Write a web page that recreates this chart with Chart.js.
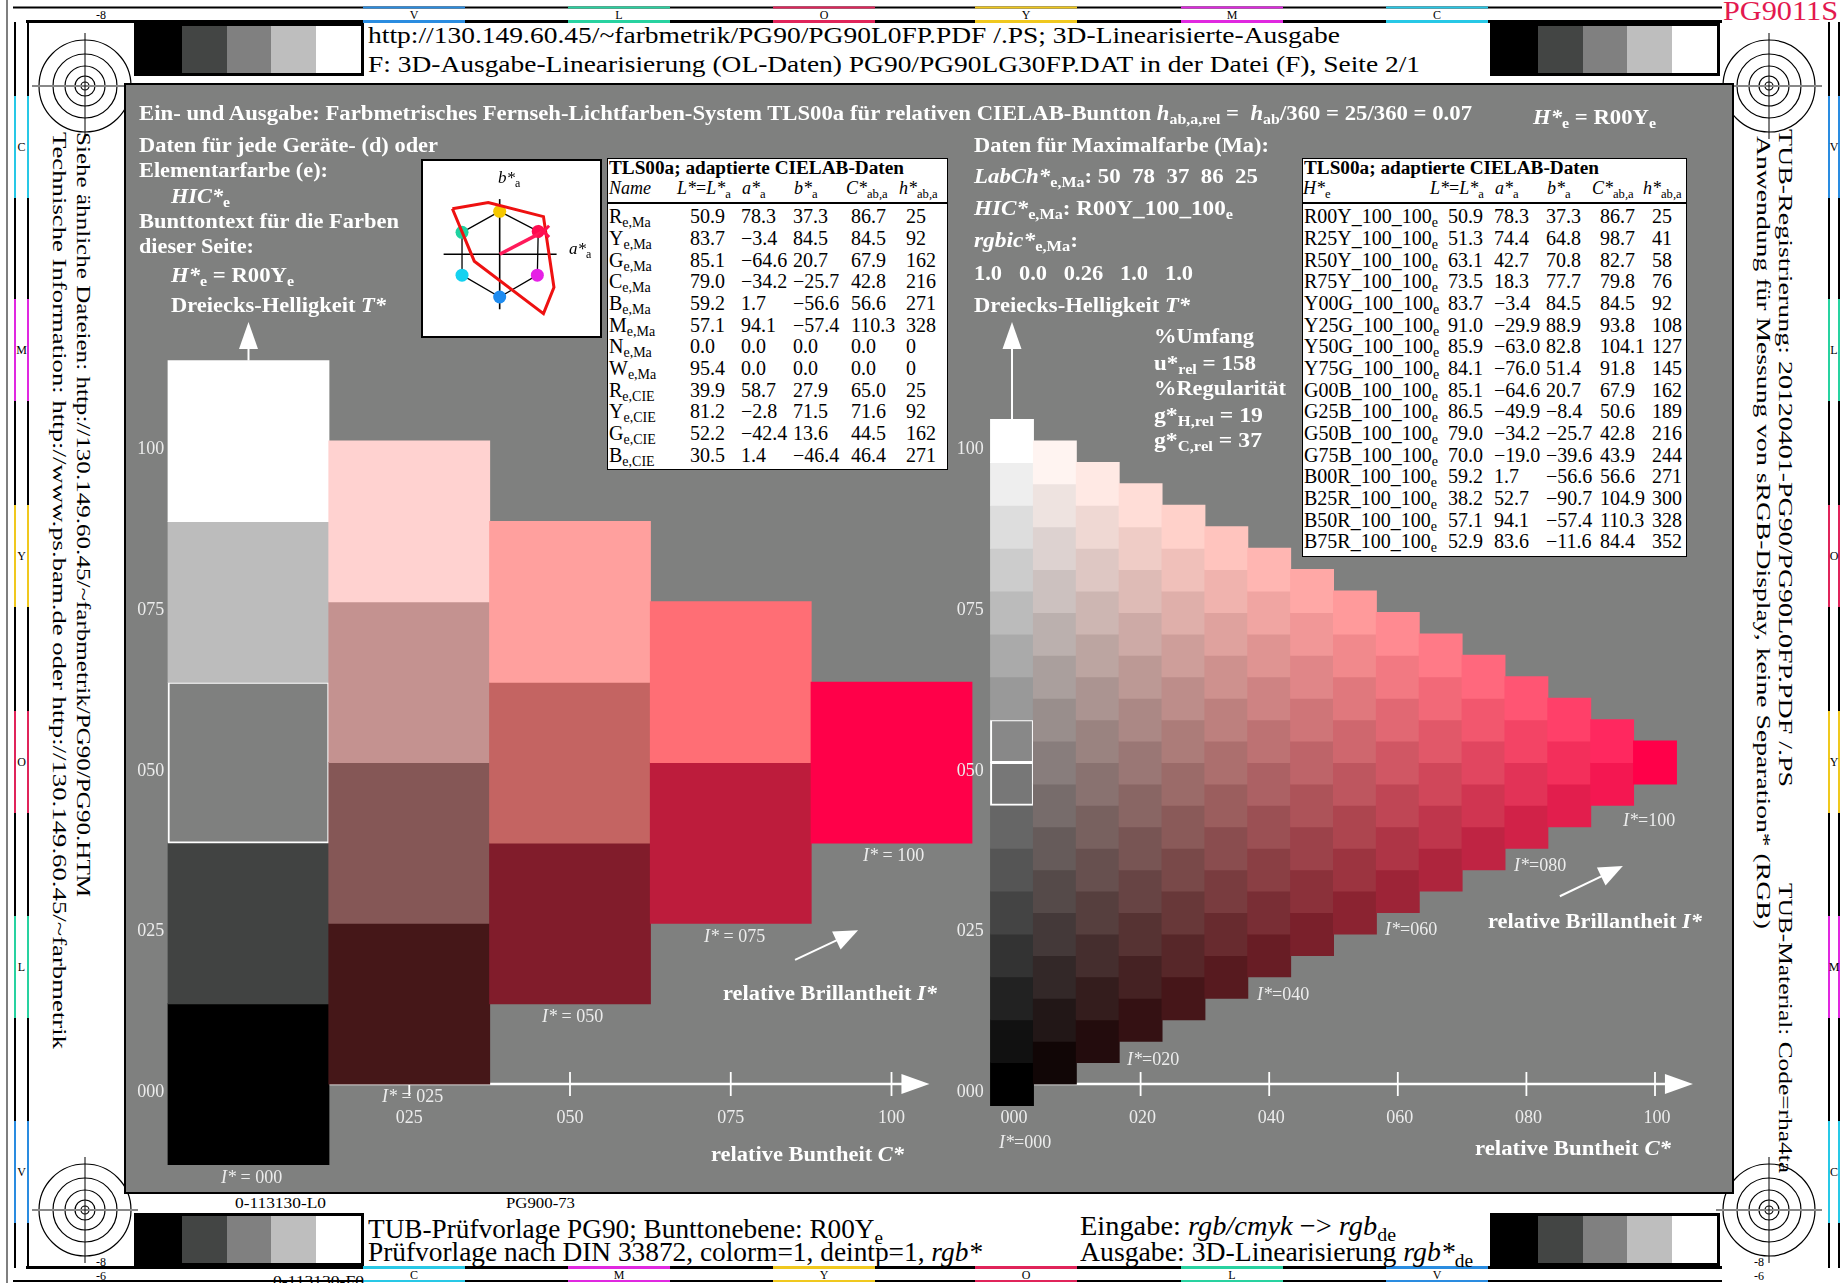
<!DOCTYPE html>
<html lang="de">
<head>
<meta charset="utf-8">
<title>PG90 – TLS00a Buntton R00Ye</title>
<script src="https://cdn.jsdelivr.net/npm/chart.js@4.4.1/dist/chart.umd.min.js"></script>
<style>
html, body { margin: 0; padding: 0; }
body { width: 1843px; height: 1283px; position: relative; overflow: hidden; background: #fff;
       font-family: "Liberation Serif", "DejaVu Serif", serif; color: #000; }
.t { position: absolute; white-space: nowrap; }
.t sub { font-size: 70%; vertical-align: -0.3em; line-height: 0; }
#panel { position: absolute; left: 124px; top: 83px; width: 1610px; height: 1111px; box-sizing: border-box;
         border: 2px solid #000; background: #7f807f; }
#grid { position: absolute; left: 126px; top: 85px; }
.box { position: absolute; background: #fff; border: 1.5px solid #000; box-sizing: border-box; }
#hex { position: absolute; left: 423px; top: 161px; }
#frame { position: absolute; left: 0; top: 0; }
.wedge { position: absolute; width: 230px; height: 53px; box-sizing: border-box; border: 3px solid #000; display: flex; }
.wedge div { flex: 1; }
</style>
</head>
<body>
<div id="panel"></div>
<canvas id="grid" width="1606" height="1107"></canvas>
<div class="box" style="left:421px;top:159px;width:181px;height:179px;border-width:2px"></div>
<canvas id="hex" width="177" height="175"></canvas>
<script>
// ---- Daten: linke Ebene (5 Stufen) ----
const leftC = [0, 25, 50, 75, 100];
const leftT = [
  [0, 25, 50, 75, 100],
  [12.5, 37.5, 62.5, 87.5],
  [25, 50, 75],
  [37.5, 62.5],
  [50]
];
// ---- Daten: rechte Ebene (16 Stufen) ----
const rightC = [0, 6.6667, 13.3333, 20, 26.6667, 33.3333, 40, 46.6667, 53.3333, 60,
                66.6667, 73.3333, 80, 86.6667, 93.3333, 100];
const rightLevels = [0, 3.3333, 6.6667, 10, 13.3333, 16.6667, 20, 23.3333, 26.6667, 30,
                     33.3333, 36.6667, 40, 43.3333, 46.6667, 50, 53.3333, 56.6667, 60, 63.3333,
                     66.6667, 70, 73.3333, 76.6667, 80, 83.3333, 86.6667, 90, 93.3333, 96.6667, 100];
const yTicks = [0, 25, 50, 75, 100];
const yTickLabels = ['000', '025', '050', '075', '100'];
const leftXTicks = [25, 50, 75, 100];
const leftXLabels = ['025', '050', '075', '100'];
const rightXTicks = [0, 20, 40, 60, 80, 100];
const rightXLabels = ['000', '020', '040', '060', '080', '100'];
const brillLeft = [{x: 85.0, y: 19.3}, {x: 94.8, y: 23.9}];
const brillRight = [{x: 85.2, y: 29.2}, {x: 95.0, y: 33.9}];

// ---- Daten: a*b*-Diagramm ----
const hexAxisA = [{x: -64, y: 0}, {x: 65, y: 0}];
const hexAxisB = [{x: 0, y: -63}, {x: 0, y: 63}];
const hexPoints = [{x: 0, y: 49}, {x: 44, y: 26}, {x: 43, y: -24}, {x: 0, y: -49}, {x: -43, y: -24}, {x: -43, y: 25}];
const gamutPoly = [{x: -54, y: 52}, {x: -13, y: 59}, {x: 50, y: 43}, {x: 62, y: -38}, {x: 50, y: -68}, {x: -29, y: -8}];
const hueVector = [{x: 0, y: 0}, {x: 48, y: 25}];
const hueMark = [{x: 50, y: 26}];

// ---- Tabellen ----
const leftNames = ['R<sub>e,Ma</sub>', 'Y<sub>e,Ma</sub>', 'G<sub>e,Ma</sub>', 'C<sub>e,Ma</sub>', 'B<sub>e,Ma</sub>',
  'M<sub>e,Ma</sub>', 'N<sub>e,Ma</sub>', 'W<sub>e,Ma</sub>', 'R<sub>e,CIE</sub>', 'Y<sub>e,CIE</sub>',
  'G<sub>e,CIE</sub>', 'B<sub>e,CIE</sub>'];
const leftRows = [
  ['50.9', '78.3', '37.3', '86.7', '25'], ['83.7', '−3.4', '84.5', '84.5', '92'],
  ['85.1', '−64.6', '20.7', '67.9', '162'], ['79.0', '−34.2', '−25.7', '42.8', '216'],
  ['59.2', '1.7', '−56.6', '56.6', '271'], ['57.1', '94.1', '−57.4', '110.3', '328'],
  ['0.0', '0.0', '0.0', '0.0', '0'], ['95.4', '0.0', '0.0', '0.0', '0'],
  ['39.9', '58.7', '27.9', '65.0', '25'], ['81.2', '−2.8', '71.5', '71.6', '92'],
  ['52.2', '−42.4', '13.6', '44.5', '162'], ['30.5', '1.4', '−46.4', '46.4', '271']
];
const rightNames = ['R00Y', 'R25Y', 'R50Y', 'R75Y', 'Y00G', 'Y25G', 'Y50G', 'Y75G',
  'G00B', 'G25B', 'G50B', 'G75B', 'B00R', 'B25R', 'B50R', 'B75R'];
const rightRows = [
  ['50.9', '78.3', '37.3', '86.7', '25'], ['51.3', '74.4', '64.8', '98.7', '41'],
  ['63.1', '42.7', '70.8', '82.7', '58'], ['73.5', '18.3', '77.7', '79.8', '76'],
  ['83.7', '−3.4', '84.5', '84.5', '92'], ['91.0', '−29.9', '88.9', '93.8', '108'],
  ['85.9', '−63.0', '82.8', '104.1', '127'], ['84.1', '−76.0', '51.4', '91.8', '145'],
  ['85.1', '−64.6', '20.7', '67.9', '162'], ['86.5', '−49.9', '−8.4', '50.6', '189'],
  ['79.0', '−34.2', '−25.7', '42.8', '216'], ['70.0', '−19.0', '−39.6', '43.9', '244'],
  ['59.2', '1.7', '−56.6', '56.6', '271'], ['38.2', '52.7', '−90.7', '104.9', '300'],
  ['57.1', '94.1', '−57.4', '110.3', '328'], ['52.9', '83.6', '−11.6', '84.4', '352']
];

// ---- Farben (Stil) ----
const leftColors = [
  ['#000000', '#414342', '#7f807f', '#bcbcbc', '#ffffff'],
  ['#451718', '#855756', '#c49290', '#ffd2d0'],
  ['#811c2b', '#c46462', '#ffa09e'],
  ['#bd1c3c', '#ff6e75'],
  ['#ff0049']
];
const cl = v => Math.round(Math.max(0, Math.min(255, v)));
function tone(C, T) {
  const c = C / 100, w = Math.max(0, T / 100 - c / 2);
  const g = 255 * w + 95 * c * Math.sqrt(1 - c);
  const r = 255 * (w + c) + (w + c < 0.99 ? 6 * c : 0);
  const b = g * (1 - 0.2 * c) + 60 * c * c + 13 * c ** 4;
  return `rgb(${cl(r)},${cl(g)},${cl(b)})`;
}

// ---- Zellen aufbauen ----
const leftCells = [];
leftC.forEach((c, j) => leftT[j].forEach((t, k) => {
  leftCells.push({x: c, y: [t - 12.5, t + 12.5], col: leftColors[j][k], mark: c === 0 && t === 50});
}));
const rightCells = [];
const half = rightLevels[1] - rightLevels[0];
rightC.forEach((c, j) => {
  for (let i = j; i <= rightLevels.length - 1 - j; i += 2) {
    const t = rightLevels[i];
    rightCells.push({x: c, y: [t - half, t + half], col: tone(c, t), mark: j === 0 && Math.abs(t - 50) < 5});
  }
});

// ---- Geometrie ----
const PX = 6.43, GX = 126, GY = 85, GW = 1606, GH = 1107;
const leftZero = 248.5, rightZero = 1012, baseY = 1084;

function arrowHead(ctx, x0, y0, x1, y1, len, hw) {
  const a = Math.atan2(y1 - y0, x1 - x0);
  ctx.beginPath();
  ctx.moveTo(x1, y1);
  ctx.lineTo(x1 - len * Math.cos(a) + hw * Math.sin(a), y1 - len * Math.sin(a) - hw * Math.cos(a));
  ctx.lineTo(x1 - len * Math.cos(a) - hw * Math.sin(a), y1 - len * Math.sin(a) + hw * Math.cos(a));
  ctx.closePath();
  ctx.fill();
}

const decor = {
  id: 'decor',
  beforeDatasetsDraw(chart) {
    const {ctx, scales: {xL, xR, y}} = chart;
    const y0 = y.getPixelForValue(0);
    ctx.save();
    ctx.strokeStyle = '#fff';
    ctx.fillStyle = '#fff';
    ctx.lineWidth = 2.5;
    [[xL, 12.5, leftXTicks], [xR, 3.3333, rightXTicks.slice(1)]].forEach(([sx, start, ticks]) => {
      const a = sx.getPixelForValue(start), b = sx.getPixelForValue(105.9);
      ctx.beginPath(); ctx.moveTo(a, y0); ctx.lineTo(b - 20, y0); ctx.stroke();
      ctx.lineWidth = 1.8;
      ticks.forEach(v => {
        const p = sx.getPixelForValue(v);
        ctx.beginPath(); ctx.moveTo(p, y0 - 12); ctx.lineTo(p, y0 + 12); ctx.stroke();
      });
      ctx.lineWidth = 2.5;
      arrowHead(ctx, a, y0, b, y0, 28, 10);
    });
    ctx.restore();
  },
  afterDatasetsDraw(chart) {
    const {ctx, scales: {xL, xR, y}} = chart;
    const y0 = y.getPixelForValue(0);
    ctx.save();
    ctx.font = '18px "Liberation Serif"';
    ctx.fillStyle = '#ececec';
    ctx.textAlign = 'right';
    yTicks.forEach((v, i) => {
      const py = y.getPixelForValue(v) + 13;
      ctx.fillText(yTickLabels[i], xL.getPixelForValue(-13.1), py);
      ctx.fillText(yTickLabels[i], xR.getPixelForValue(-4.4), py);
    });
    ctx.textAlign = 'center';
    leftXTicks.forEach((v, i) => ctx.fillText(leftXLabels[i], xL.getPixelForValue(v), y0 + 39));
    rightXTicks.forEach((v, i) => ctx.fillText(rightXLabels[i], xR.getPixelForValue(v) + 2, y0 + 39));
    // Pfeile Dreiecks-Helligkeit
    ctx.strokeStyle = '#fff';
    ctx.fillStyle = '#fff';
    ctx.lineWidth = 2;
    [[xL, 112.5], [xR, 103.3333]].forEach(([sx, from]) => {
      const px = sx.getPixelForValue(0), yb = y.getPixelForValue(from), yt = y.getPixelForValue(118.5);
      ctx.beginPath(); ctx.moveTo(px, yb); ctx.lineTo(px, yt + 20); ctx.stroke();
      arrowHead(ctx, px, yb, px, yt, 27, 9.5);
    });
    // Pfeile relative Brillantheit
    [[xL, brillLeft], [xR, brillRight]].forEach(([sx, pts]) => {
      const x0 = sx.getPixelForValue(pts[0].x), yy0 = y.getPixelForValue(pts[0].y);
      const x1 = sx.getPixelForValue(pts[1].x), yy1 = y.getPixelForValue(pts[1].y);
      ctx.beginPath(); ctx.moveTo(x0, yy0); ctx.lineTo(x0 + (x1 - x0) * 0.7, yy0 + (yy1 - yy0) * 0.7); ctx.stroke();
      arrowHead(ctx, x0, yy0, x1, yy1, 24, 10);
    });
    ctx.restore();
  }
};

const cellDataset = (label, axis, data) => ({
  label, xAxisID: axis, data,
  backgroundColor: c => (c.raw ? c.raw.col : '#888'),
  borderColor: '#ffffff',
  borderWidth: c => (c.raw && c.raw.mark ? 2 : 0),
  borderSkipped: false,
  grouped: false,
  barPercentage: 1,
  categoryPercentage: 1,
  inflateAmount: 0.5
});
const hiddenLinear = (min, max) => ({
  type: 'linear', display: false, offset: false, min, max,
  ticks: {includeBounds: false, stepSize: 500}
});

new Chart(document.getElementById('grid'), {
  type: 'bar',
  data: {
    datasets: [
      cellDataset('TLS00a 5 Stufen', 'xL', leftCells),
      cellDataset('TLS00a 16 Stufen', 'xR', rightCells)
    ]
  },
  options: {
    responsive: false,
    animation: false,
    devicePixelRatio: 1,
    layout: {padding: 0},
    plugins: {legend: {display: false}, tooltip: {enabled: false}},
    scales: {
      xL: hiddenLinear(-(leftZero - GX) / PX, (GX + GW - leftZero) / PX),
      xR: hiddenLinear(-(rightZero - GX) / PX, (GX + GW - rightZero) / PX),
      y: hiddenLinear(-(GY + GH - baseY) / PX, (baseY - GY) / PX)
    }
  },
  plugins: [decor]
});

// ---- a*b*-Diagramm ----
const line = (data, color, width) => ({
  data, showLine: true, borderColor: color, borderWidth: width, pointRadius: 0, fill: false, tension: 0
});
new Chart(document.getElementById('hex'), {
  type: 'scatter',
  data: {
    datasets: [
      {data: hueMark, pointStyle: 'crossRot', pointRadius: 8, pointBorderColor: '#ff1050', pointBorderWidth: 3, showLine: false},
      line(hueVector, '#ff1a5a', 3.5),
      line([...gamutPoly, gamutPoly[0]], '#ee1111', 3),
      {data: hexPoints, pointRadius: 6.5, pointBorderWidth: 0, showLine: false,
       pointBackgroundColor: ['#f5c800', '#ff0a50', '#e620e6', '#1e8cf0', '#14d2f0', '#1ed2a0']},
      line([...hexPoints, hexPoints[0]], '#000', 1.3),
      line(hexAxisA, '#000', 1.6),
      line(hexAxisB, '#000', 1.6)
    ]
  },
  options: {
    responsive: false, animation: false, devicePixelRatio: 1,
    layout: {padding: 0},
    plugins: {legend: {display: false}, tooltip: {enabled: false}},
    scales: {
      x: {type: 'linear', display: false, min: -75, max: 102},
      y: {type: 'linear', display: false, min: -81, max: 94}
    }
  }
});

// ---- Texte ----
function put(html, x, base, size, o = {}) {
  const d = document.createElement('div');
  d.className = 't';
  d.innerHTML = html;
  Object.assign(d.style, {
    left: x + 'px', top: (base - 0.8375 * size) + 'px',
    fontSize: size + 'px', lineHeight: size + 'px',
    fontWeight: o.bold ? 'bold' : 'normal', color: o.color || '#000'
  });
  if (o.italic) d.style.fontStyle = 'italic';
  document.body.appendChild(d);
  const w = d.getBoundingClientRect().width;
  let tf = '';
  if (o.rot) {
    d.style.left = (x + 0.5075 * size) + 'px';
    d.style.top = base + 'px';
    tf = 'rotate(90deg) ';
  }
  if (o.w) tf += `scaleX(${(o.w / w).toFixed(4)})`;
  if (tf) { d.style.transformOrigin = '0 0'; d.style.transform = tf; }
  return d;
}
const W = {bold: true, color: '#fff'};
const L = {color: '#ececec'};

// Kopf und Fuß
put('http://130.149.60.45/~farbmetrik/PG90/PG90L0FP.PDF /.PS; 3D-Linearisierte-Ausgabe', 368, 43, 23, {w: 972});
put('F: 3D-Ausgabe-Linearisierung (OL-Daten) PG90/PG90LG30FP.DAT in der Datei (F), Seite 2/1', 368, 72, 23, {w: 1052});
put('PG9011S', 1723, 21, 27, {color: '#e3194f', w: 115});
put('TUB-Prüfvorlage PG90; Bunttonebene: R00Y<sub>e</sub>', 368, 1238, 28, {w: 515});
put('Prüfvorlage nach DIN 33872, colorm=1, deintp=1, <i>rgb*</i>', 368, 1261, 28, {w: 614});
put('Eingabe: <i>rgb/cmyk</i> −&gt; <i>rgb</i><sub>de</sub>', 1080, 1235, 28, {w: 316});
put('Ausgabe: 3D-Linearisierung <i>rgb*</i><sub>de</sub>', 1080, 1261, 28, {w: 393});
put('0-113130-L0', 235, 1209, 14, {w: 91});
put('PG900-73', 506, 1209, 14, {w: 69});
put('0-113130-F0', 273, 1287, 14, {w: 91});
put('-8', 96, 19, 12); put('-8', 96, 1266, 12); put('-6', 96, 1280, 12);
put('-8', 1754, 1266, 12); put('-6', 1754, 1280, 12);

// Seitentexte
put('Siehe ähnliche Dateien: http://130.149.60.45/~farbmetrik/PG90/PG90.HTM', 83, 132, 19, {rot: true, w: 765});
put('Technische Information: http://www.ps.bam.de oder http://130.149.60.45/~farbmetrik', 59, 132, 19, {rot: true, w: 917});
put('TUB-Registrierung: 20120401-PG90/PG90L0FP.PDF /.PS', 1785, 129, 19, {rot: true, w: 658});
put('Anwendung für Messung von sRGB-Display, keine Separation* (RGB)', 1763, 136, 19, {rot: true, w: 793});
put('TUB-Material: Code=rha4ta', 1785, 883, 19, {rot: true, w: 290});

// Graufeld
put('Ein- und Ausgabe: Farbmetrisches Fernseh-Lichtfarben-System TLS00a für relativen CIELAB-Buntton <i>h</i><sub>ab,a,rel</sub> =&nbsp; <i>h</i><sub>ab</sub>/360 = 25/360 = 0.07', 139, 120, 20, {...W, w: 1333});
put('<i>H*</i><sub>e</sub> = R00Y<sub>e</sub>', 1533, 125, 21, {...W, w: 123});
put('Daten für jede Geräte- (d) oder', 139, 152, 20, {...W, w: 299});
put('Elementarfarbe (e):', 139, 177, 20, {...W, w: 189});
put('<i>HIC*</i><sub>e</sub>', 171, 203, 20, {...W, w: 59});
put('Bunttontext für die Farben', 139, 228, 20, {...W, w: 260});
put('dieser Seite:', 139, 253, 20, {...W, w: 115});
put('<i>H*</i><sub>e</sub> = R00Y<sub>e</sub>', 171, 282, 20, {...W, w: 123});
put('Dreiecks-Helligkeit <i>T*</i>', 171, 312, 20, {...W, w: 215});
put('Daten für Maximalfarbe (Ma):', 974, 152, 20, {...W, w: 295});
put('<i>LabCh*</i><sub>e,Ma</sub>: 50&nbsp; 78&nbsp; 37&nbsp; 86&nbsp; 25', 974, 183, 20, {...W, w: 284});
put('<i>HIC*</i><sub>e,Ma</sub>: R00Y_100_100<sub>e</sub>', 974, 215, 20, {...W, w: 259});
put('<i>rgbic*</i><sub>e,Ma</sub>:', 974, 247, 20, {...W, w: 104});
put('1.0&nbsp;&nbsp; 0.0&nbsp;&nbsp; 0.26&nbsp;&nbsp; 1.0&nbsp;&nbsp; 1.0', 974, 280, 20, {...W, w: 219});
put('Dreiecks-Helligkeit <i>T*</i>', 974, 312, 20, {...W, w: 216});
put('%Umfang', 1154, 343, 20, {...W, w: 100});
put('u*<sub>rel</sub> = 158', 1154, 370, 20, {...W, w: 102});
put('%Regularität', 1154, 395, 20, {...W, w: 132});
put('g*<sub>H,rel</sub> = 19', 1154, 422, 20, {...W, w: 109});
put('g*<sub>C,rel</sub> = 37', 1154, 447, 20, {...W, w: 108});

put('relative Brillantheit <i>I*</i>', 723, 1000, 20, {...W, w: 214});
put('relative Buntheit <i>C*</i>', 711, 1161, 20, {...W, w: 193});
put('relative Brillantheit <i>I*</i>', 1488, 928, 20, {...W, w: 214});
put('relative Buntheit <i>C*</i>', 1475, 1155, 20, {...W, w: 196});

put('<i>I*</i> = 100', 863, 861, 18, L);
put('<i>I*</i> = 075', 704, 942, 18, L);
put('<i>I*</i> = 050', 542, 1022, 18, L);
put('<i>I*</i> = 025', 382, 1102, 18, L);
put('<i>I*</i> = 000', 221, 1183, 18, L);
put('<i>I*</i>=100', 1623, 826, 18, L);
put('<i>I*</i>=080', 1514, 871, 18, L);
put('<i>I*</i>=060', 1385, 935, 18, L);
put('<i>I*</i>=040', 1257, 1000, 18, L);
put('<i>I*</i>=020', 1127, 1065, 18, L);
put('<i>I*</i>=000', 999, 1148, 18, L);

put('<i>b*</i><sub>a</sub>', 498, 183, 17);
put('<i>a*</i><sub>a</sub>', 569, 254, 17);

// Tabellen
function table(x, y, w, h, title, head, headX, names, rows, colX) {
  const b = document.createElement('div');
  b.className = 'box';
  Object.assign(b.style, {left: x + 'px', top: y + 'px', width: w + 'px', height: h + 'px'});
  document.body.appendChild(b);
  const r = document.createElement('div');
  Object.assign(r.style, {position: 'absolute', left: x + 'px', top: '202px', width: w + 'px', height: '1.5px', background: '#000'});
  document.body.appendChild(r);
  put(title, x + 2, 174, 18, {bold: true, w: 295});
  head.forEach((s, i) => put(s, headX[i], 194, 18));
  names.forEach((n, i) => {
    const base = 223 + 21.67 * i;
    put(n, x + 2, base, 20);
    rows[i].forEach((v, k) => put(v, colX[k], base, 20));
  });
}
table(607, 158, 341, 312, 'TLS00a; adaptierte CIELAB-Daten',
  ['<i>Name</i>', '<i>L*</i>=<i>L*</i><sub>a</sub>', '<i>a*</i><sub>a</sub>', '<i>b*</i><sub>a</sub>',
   '<i>C*</i><sub>ab,a</sub>', '<i>h*</i><sub>ab,a</sub>'],
  [609, 677, 742, 794, 846, 899], leftNames, leftRows, [690, 741, 793, 851, 906]);
table(1302, 158, 385, 399, 'TLS00a; adaptierte CIELAB-Daten',
  ['<i>H*</i><sub>e</sub>', '<i>L*</i>=<i>L*</i><sub>a</sub>', '<i>a*</i><sub>a</sub>', '<i>b*</i><sub>a</sub>',
   '<i>C*</i><sub>ab,a</sub>', '<i>h*</i><sub>ab,a</sub>'],
  [1303, 1430, 1495, 1547, 1592, 1643],
  rightNames.map(n => n + '_100_100<sub>e</sub>'), rightRows, [1448, 1494, 1546, 1600, 1652]);

// Graukeile
const wedgeGray = ['#000', '#434544', '#808080', '#bebebe', '#fff'];
[[134, 23], [1490, 23], [134, 1213], [1490, 1213]].forEach(([x, y]) => {
  const d = document.createElement('div');
  d.className = 'wedge';
  d.style.left = x + 'px';
  d.style.top = y + 'px';
  d.innerHTML = wedgeGray.map(g => `<div style="background:${g}"></div>`).join('');
  document.body.appendChild(d);
});

// Rahmen, Farbmarken, Passkreuze
const stripCol = {V: '#2a8ce0', L: '#28d2a0', O: '#e0245a', Y: '#f0c81e', M: '#e028e0', C: '#28c8e6'};
const rect = (x, y, w, h, f) => `<rect x="${x}" y="${y}" width="${w}" height="${h}" fill="${f}"/>`;
const lab = (x, y, s) => `<text x="${x}" y="${y}" font-size="12" text-anchor="middle" font-family="Liberation Serif">${s}</text>`;
let svg = '';
svg += rect(6.5, 0, 1, 1283, '#000');
svg += rect(13, 6.5, 1709, 2, '#000') + rect(26, 20, 1696, 3, '#000');
svg += rect(26, 1266, 1696, 3, '#000') + rect(13, 1280, 1709, 2, '#000');
svg += rect(14, 22, 2, 1246, '#000') + rect(27, 22, 2, 1246, '#000');
svg += rect(1828, 22, 2, 1246, '#000') + rect(1838, 22, 2, 1246, '#000');
const topX = [414, 619, 824, 1026, 1232, 1437];
['V', 'L', 'O', 'Y', 'M', 'C'].forEach((k, i) => {
  svg += rect(topX[i] - 51, 6.5, 102, 2, stripCol[k]) + rect(topX[i] - 51, 20, 102, 3, stripCol[k]) + lab(topX[i], 19, k);
});
['C', 'M', 'Y', 'O', 'L', 'V'].forEach((k, i) => {
  svg += rect(topX[i] - 51, 1266, 102, 3, stripCol[k]) + rect(topX[i] - 51, 1280, 102, 2, stripCol[k]) + lab(topX[i], 1279, k);
});
const leftY = [147, 350, 556, 762, 967, 1172];
['C', 'M', 'Y', 'O', 'L', 'V'].forEach((k, i) => {
  svg += rect(14, leftY[i] - 51, 2, 102, stripCol[k]) + rect(27, leftY[i] - 51, 2, 102, stripCol[k]) + lab(21.5, leftY[i] + 4, k);
});
['V', 'L', 'O', 'Y', 'M', 'C'].forEach((k, i) => {
  svg += rect(1828, leftY[i] - 51, 2, 102, stripCol[k]) + rect(1838, leftY[i] - 51, 2, 102, stripCol[k]) + lab(1834, leftY[i] + 4, k);
});
[[85, 86], [1769, 86], [85, 1210], [1769, 1210]].forEach(([cx, cy]) => {
  svg += `<rect x="${cx - 56}" y="${cy - 56}" width="112" height="112" fill="#fff"/>`;
  [46, 32, 20, 10, 4].forEach(r => {
    svg += `<circle cx="${cx}" cy="${cy}" r="${r}" fill="none" stroke="#000" stroke-width="1.2"/>`;
  });
  svg += `<line x1="${cx - 53}" y1="${cy}" x2="${cx + 53}" y2="${cy}" stroke="#888" stroke-width="2"/>`;
  svg += `<line x1="${cx}" y1="${cy - 53}" x2="${cx}" y2="${cy + 53}" stroke="#000" stroke-width="1"/>`;
});
document.body.insertAdjacentHTML('afterbegin', `<svg id="frame" width="1843" height="1283">${svg}</svg>`);
</script>
</body>
</html>
